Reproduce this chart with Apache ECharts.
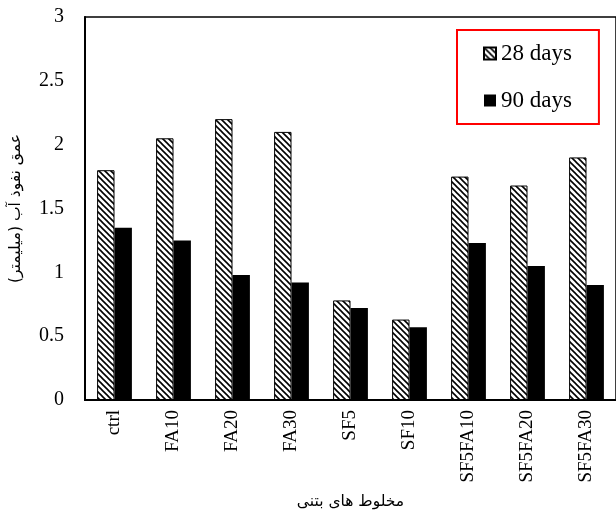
<!DOCTYPE html>
<html>
<head>
<meta charset="utf-8">
<script src="https://cdn.jsdelivr.net/npm/echarts@6/dist/echarts.min.js"></script>
<style>
html,body{margin:0;padding:0;background:#fff;}
#chart{width:616px;height:520px;}
</style>
</head>
<body>
<div id="chart"></div>
<script>
const categories = ['ctrl','FA10','FA20','FA30','SF5','SF10','SF5FA10','SF5FA20','SF5FA30'];
const days28 = [1.80, 2.05, 2.20, 2.10, 0.78, 0.63, 1.75, 1.68, 1.90];
const days90 = [1.35, 1.25, 0.98, 0.92, 0.72, 0.57, 1.23, 1.05, 0.90];
const seriesNames = ['28 days', '90 days'];
const yTicks = { min: 0, max: 3, interval: 0.5 };
const yAxisTitle = 'عمق نفوذ آب (میلیمتر)';
const xAxisTitle = 'مخلوط های بتنی';

function hatch() {
  const c = document.createElement('canvas');
  c.width = 6; c.height = 6;
  const ctx = c.getContext('2d');
  ctx.fillStyle = '#fff';
  ctx.fillRect(0, 0, 6, 6);
  ctx.strokeStyle = '#000';
  ctx.lineWidth = 1.6;
  for (const k of [-6, 0, 6]) {
    ctx.beginPath();
    ctx.moveTo(k - 1, -1);
    ctx.lineTo(k + 7, 7);
    ctx.stroke();
  }
  return c;
}

const serif = '"Liberation Serif", "DejaVu Serif", serif';
const chart = echarts.init(document.getElementById('chart'), null, { renderer: 'canvas' });
chart.setOption({
  animation: false,
  backgroundColor: '#fff',
  grid: {
    left: 83, top: 17, right: -3, bottom: 120,
    show: true, borderColor: '#000', borderWidth: 1.5, backgroundColor: 'transparent'
  },
  legend: {
    orient: 'vertical',
    left: 457, top: 30,
    padding: [12, 27, 12, 26],
    borderColor: '#ff0000', borderWidth: 2,
    itemWidth: 12, itemHeight: 12, itemGap: 24,
    icon: 'rect',
    textStyle: { fontFamily: serif, fontSize: 23, color: '#000', lineHeight: 22 },
    data: seriesNames
  },
  xAxis: {
    type: 'category',
    data: categories,
    axisLine: { lineStyle: { color: '#000', width: 2 } },
    axisTick: { show: false },
    axisLabel: { rotate: 90, fontFamily: serif, fontSize: 19, color: '#000', margin: 10, interval: 0 },
    name: xAxisTitle,
    nameLocation: 'middle',
    nameGap: 94,
    nameTextStyle: { fontFamily: '"DejaVu Sans", sans-serif', fontSize: 15.5, color: '#000' }
  },
  yAxis: {
    type: 'value',
    min: yTicks.min, max: yTicks.max, interval: yTicks.interval,
    splitLine: { show: false },
    axisLine: { show: true, lineStyle: { color: '#000', width: 2 } },
    axisTick: { show: false },
    axisLabel: { fontFamily: serif, fontSize: 20, color: '#000', margin: 21 },
    name: yAxisTitle,
    nameLocation: 'middle',
    nameRotate: 90,
    nameGap: 61,
    nameTextStyle: { fontFamily: '"DejaVu Sans", sans-serif', fontSize: 15.5, color: '#000' }
  },
  series: [
    {
      name: seriesNames[0], type: 'bar', data: days28,
      barGap: '0%', barCategoryGap: '41%',
      itemStyle: { color: { image: hatch(), repeat: 'repeat' }, borderColor: '#000', borderWidth: 1 }
    },
    {
      name: seriesNames[1], type: 'bar', data: days90,
      itemStyle: { color: '#000' }
    }
  ]
});
</script>
</body>
</html>
